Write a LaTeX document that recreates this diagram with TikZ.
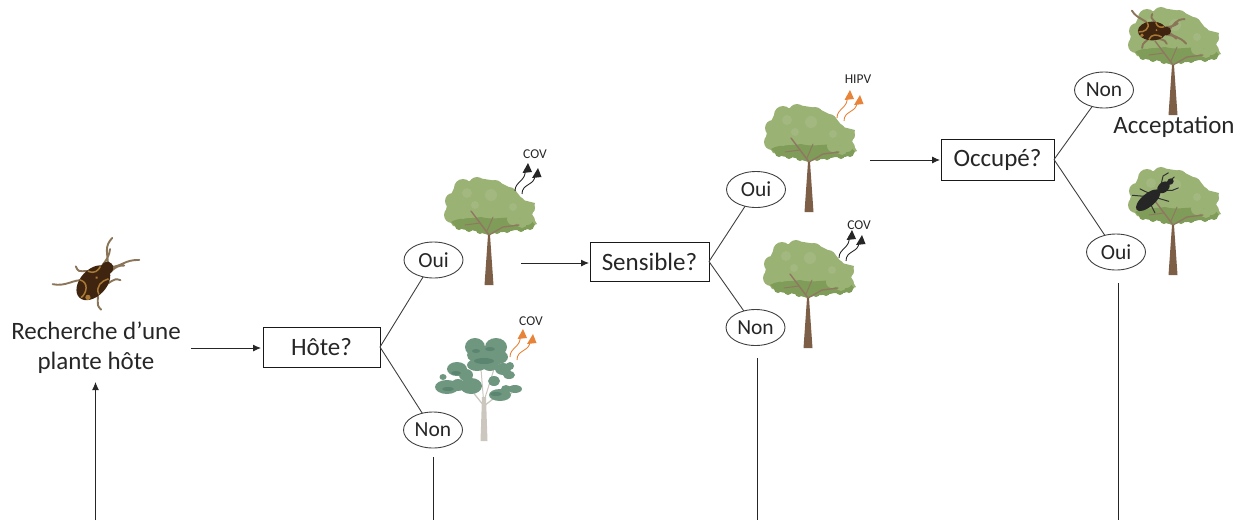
\documentclass[tikz,border=0pt]{standalone}
\usepackage{fontspec}
\setmainfont{Carlito}
\usetikzlibrary{arrows.meta,shapes.geometric}
\definecolor{leaf}{HTML}{9AB273}
\definecolor{leafdk}{HTML}{7F9C58}
\definecolor{leaflt}{HTML}{A3B880}
\definecolor{bark}{HTML}{7D5F48}
\definecolor{euc}{HTML}{6F9780}
\definecolor{eucdk}{HTML}{5B8570}
\definecolor{euctr}{HTML}{CBC7BE}
\definecolor{fume}{HTML}{E8843A}
\definecolor{bugbr}{HTML}{3F2410}
\definecolor{bugor}{HTML}{A87A35}
\definecolor{bugleg}{HTML}{8A7558}
\definecolor{linegr}{HTML}{404040}
\tikzset{
  x=1pt,y=-1pt,
  every node/.style={inner sep=0pt,outer sep=0pt,text=black!85},
  qbox/.style={draw=black!90,line width=0.9pt,font=\fontsize{25}{25}\selectfont},
  answer/.style={draw=black!75,line width=0.9pt,ellipse,minimum width=59pt,minimum height=36pt,font=\fontsize{21.5}{21.5}\selectfont},
  lab/.style={font=\fontsize{25}{30}\selectfont,align=center},
  voc/.style={font=\fontsize{13.5}{13.5}\selectfont},
  link/.style={draw=linegr,line width=0.9pt},
  stem/.style={draw=black!85,line width=0.9pt},
  arr/.style={draw=black!85,line width=0.9pt,-{Latex[length=8pt,width=7pt]}},
  oak/.pic={
    \fill[leaf] (-11,-107) -- (8,-104) -- (26,-95) -- (34,-85) -- (46,-82) -- (43,-69) -- (48,-61) -- (34,-56) -- (14,-56) -- (0,-50) -- (-19,-56) -- (-36,-59) -- (-44,-71) -- (-41,-84) -- (-34,-99) -- cycle;
    \foreach \cx/\cy/\cr in {-26/-97/9,-12/-100/8,6/-97/8,20/-90/8,30/-82/6,40/-77/6,38/-64/8,20/-64/8,-36/-84/8,-37/-70/8,-28/-64/7,-20/-85/12,4/-80/16,-6/-66/12}
      \fill[leaf] (\cx,\cy) circle (\cr);
    \fill[leafdk] (-38,-63) .. controls (-30,-68) and (-18,-66) .. (-8,-68) .. controls (4,-64) and (20,-70) .. (30,-66) .. controls (36,-68) and (44,-64) .. (46,-60) .. controls (40,-55) and (34,-54) .. (26,-55) .. controls (16,-52) and (8,-54) .. (0,-50) .. controls (-8,-52) and (-14,-55) .. (-20,-55) .. controls (-28,-55) and (-34,-58) .. (-38,-63) -- cycle;
    \foreach \cx/\cy/\cr in {-30/-59/4,-20/-57/4,-9/-55/4,8/-55/4,18/-56/4,32/-57/4,41/-59/4}
      \fill[leafdk] (\cx,\cy) circle (\cr);
    \foreach \cx/\cy/\cr in {24/-66/6,38/-66/6,-26/-70/4,-10/-72/4,10/-72/5,33/-62/5}
      \fill[leaf] (\cx,\cy) circle (\cr);
    \foreach \cx/\cy/\cr in {-22/-92/5,2/-90/6,-14/-80/4,24/-78/4}
      \fill[leaflt] (\cx,\cy) circle (\cr);
    \draw[bark!85,line width=1.4pt,line cap=round] (0,-50) -- (-9,-62) -- (-18,-74);
    \draw[bark!85,line width=1.3pt,line cap=round] (0,-50) -- (14,-58) -- (30,-60);
    \draw[bark!85,line width=0.9pt,line cap=round] (-9,-62) -- (-24,-60);
    \draw[bark!85,line width=0.9pt,line cap=round] (-2,-54) -- (4,-68);
    \fill[bark] (-1,-50) -- (1,-50) -- (4.5,0) -- (-4.5,0) -- cycle;
  },
  eucalyptus/.pic={
    \draw[euctr,line width=1.3pt] (0,-35) -- (-12,-50) -- (-30,-52);
    \draw[euctr,line width=1.3pt] (0,-35) -- (14,-46) -- (28,-48);
    \draw[euctr,line width=1pt] (0,-35) -- (-3,-72);
    \draw[euctr,line width=1pt] (0,-40) -- (10,-72);
    \foreach \cx/\cy/\rx/\ry in {-9/-94/10/9,12/-94/11/9,-2/-86/15/9,14/-84/10/7,-7/-76/10/6,6/-76/8/6,-27/-72/10/7,-18/-66/7/6,-41/-64/3.5/3,-37/-54/12/7,-26/-56/7/6,-13/-55/11/8,19/-72/8/6,26/-75/4/4,25/-66/6/4,31/-52/7/4,16/-46/11/6,10/-60/6/5,22/-52/5/4}
      \fill[euc] (\cx,\cy) ellipse ({\rx} and {\ry});
    \foreach \cx/\cy/\rx/\ry in {0/-80/10/3,-28/-68/5/2,-36/-52/6/2,12/-47/6/2,6/-92/5/2,-8/-90/4/2}
      \fill[eucdk] (\cx,\cy) ellipse ({\rx} and {\ry});
    \fill[euctr] (-2,-44) -- (2,-44) -- (3.5,0) -- (-3.5,0) -- cycle;
  },
  pics/fumes/.style={code={
    \draw[#1,line width=0.9pt] (0,0) .. controls (0,-10) and (12,-10) .. (10,-22);
    \fill[#1] (13,-28) -- (7.5,-18) -- (17,-19) -- cycle;
    \draw[#1,line width=0.9pt] (7,3) .. controls (7,-8) and (20,-5) .. (20,-16);
    \fill[#1] (23,-23) -- (17,-13) -- (26.5,-14) -- cycle;
  }},
  bug/.pic={
    \draw[bugleg,line width=1.9pt,line cap=round]
      (9,-3) .. controls (14,-6) and (20,-3) .. (28,-9)
      (9,3) .. controls (14,6) and (20,2) .. (26,9)
      (2,-7) .. controls (3,-14) and (-6,-12) .. (-2,-20)
      (2,7) .. controls (8,12) and (12,8) .. (15,15)
      (-6,-7) .. controls (-10,-14) and (-20,-14) .. (-26,-24)
      (-6,7) .. controls (-8,14) and (-14,12) .. (-14,20)
      (18,-2) .. controls (24,-8) and (26,-14) .. (36,-14)
      (18,2) .. controls (24,8) and (30,6) .. (38,15);
    \fill[bugbr] (-2,0) ellipse (17 and 11);
    \fill[bugbr] (15,0) ellipse (5 and 5);
    \draw[bugor,line width=1.5pt] (-8,-10) .. controls (-4,-3) and (-12,2) .. (-18,1);
    \draw[bugor,line width=1.5pt] (-6,10) .. controls (-3,3) and (4,4) .. (9,7);
    \draw[bugor,line width=1.5pt] (2,-10) .. controls (4,-4) and (8,-4) .. (12,-5);
    \fill[bugor] (-14,5) circle (2.2);
    \fill[bugor] (3,-1) circle (1.2);
  },
  beetle/.pic={
    \draw[black!80,line width=1pt,line cap=round]
      (14,-3) -- (22,-9) -- (28,-8)
      (14,3) -- (20,8) -- (26,10)
      (4,5) -- (10,14) (0,-5) -- (-4,-14) (-6,-6) -- (-14,-14) (-6,6) -- (-8,14) (20,-1) -- (30,-1);
    \fill[black!85] (-5,0) ellipse (15 and 6.5);
    \fill[black!85] (15,0) ellipse (7 and 5);
    \fill[black!85] (24,0) ellipse (3.5 and 3);
  }
}
\begin{document}
\begin{tikzpicture}
\useasboundingbox (0,0) rectangle (1245,520);
% trees
\pic at (489,285) {oak};
\pic at (809,212) {oak};
\pic at (808,348) {oak};
\pic at (1173,115) {oak};
\pic at (1173,275) {oak};
\pic at (484,441) {eucalyptus};
% volatiles
\pic at (515,191) {fumes=black!85};
\pic at (837,118) {fumes=fume};
\pic at (839,258) {fumes=black!85};
\pic at (510,357) {fumes=fume};
% insects
\pic[rotate=47,scale=1.2] at (95,281) {bug};
\pic[scale=0.85] at (1154,31) {bug};
\pic[rotate=40] at (1152,197) {beetle};
% labels
\node[voc] (cov1) at (535,154) {COV};
\node[voc] (hipv) at (858,79) {HIPV};
\node[voc] (cov2) at (859,225) {COV};
\node[voc] (cov3) at (531,321) {COV};
\node[lab] (search) at (96,348) {Recherche d’une\\plante hôte};
\node[lab] (accept) at (1174,127) {Acceptation};
% decisions
\node[qbox,minimum width=117pt,minimum height=40pt] (hote) at (321.5,347) {Hôte?};
\node[qbox,minimum width=119pt,minimum height=39pt] (sens) at (649.5,261.5) {Sensible?};
\node[qbox,minimum width=113pt,minimum height=41pt] (occ) at (997.5,159.5) {Occupé?};
\node[answer] (oui1) at (433.5,260) {Oui};
\node[answer] (non1) at (433,430) {Non};
\node[answer] (oui2) at (756,189.5) {Oui};
\node[answer] (non2) at (755.5,327.5) {Non};
\node[answer] (non3) at (1104,90) {Non};
\node[answer] (oui3) at (1116,252) {Oui};
% free ends
\coordinate (a1) at (191,348);
\coordinate (a2) at (261,348);
\coordinate (b1) at (521,263);
\coordinate (b2) at (589,263);
\coordinate (c1) at (870,160);
\coordinate (c2) at (940,160);
\coordinate (d0) at (95.5,520);
\coordinate (d1) at (95.5,382);
\coordinate (e0) at (433,457);
\coordinate (e1) at (433,520);
\coordinate (f0) at (757,358);
\coordinate (f1) at (757,520);
\coordinate (g0) at (1118,283);
\coordinate (g1) at (1118,520);
% connectors
\draw[arr] (a1) -- (a2);
\draw[arr] (b1) -- (b2);
\draw[arr] (c1) -- (c2);
\draw[arr] (d0) -- (d1);
\draw[link] (hote.east) -- (oui1);
\draw[link] (hote.east) -- (non1);
\draw[link] (sens.east) -- (oui2);
\draw[link] (sens.east) -- (non2);
\draw[link] (occ.east) -- (non3);
\draw[link] (occ.east) -- (oui3);
\draw[stem] (e0) -- (e1);
\draw[stem] (f0) -- (f1);
\draw[stem] (g0) -- (g1);
\end{tikzpicture}
\end{document}
